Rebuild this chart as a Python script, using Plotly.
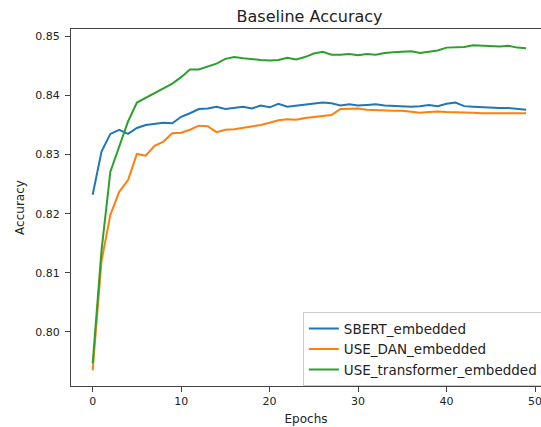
import plotly.graph_objects as go

epochs = list(range(50))

sbert = [0.8232, 0.8305, 0.8335, 0.8342, 0.8335, 0.8345, 0.8350, 0.8352, 0.8354, 0.8353,
         0.8364, 0.8370, 0.8377, 0.8378, 0.8381, 0.8377, 0.8379, 0.8381, 0.8378, 0.8383,
         0.8380, 0.8386, 0.8381, 0.8383, 0.8384, 0.8386, 0.8388, 0.8387, 0.8383, 0.8385,
         0.8383, 0.8384, 0.8385, 0.8383, 0.8382, 0.8381, 0.8381, 0.8382, 0.8384, 0.8382,
         0.8386, 0.8388, 0.8382, 0.8381, 0.8380, 0.8379, 0.8379, 0.8379, 0.8377, 0.8376]

use_dan = [0.7935, 0.8120, 0.8198, 0.8237, 0.8257, 0.8301, 0.8298, 0.8315, 0.8322, 0.8336,
           0.8337, 0.8342, 0.8349, 0.8348, 0.8338, 0.8342, 0.8343, 0.8345, 0.8347, 0.8350,
           0.8354, 0.8358, 0.8360, 0.8359, 0.8362, 0.8364, 0.8366, 0.8367, 0.8377, 0.8377,
           0.8378, 0.8376, 0.8375, 0.8374, 0.8374, 0.8374, 0.8372, 0.8371, 0.8372, 0.8373,
           0.8372, 0.8372, 0.8372, 0.8371, 0.8370, 0.8370, 0.8370, 0.8369, 0.8369, 0.8370]

use_transformer = [0.7947, 0.8138, 0.8271, 0.8315, 0.8356, 0.8388, 0.8396, 0.8404, 0.8413, 0.8420,
                   0.8431, 0.8444, 0.8444, 0.8449, 0.8454, 0.8462, 0.8465, 0.8463, 0.8461, 0.8460,
                   0.8459, 0.8460, 0.8464, 0.8461, 0.8465, 0.8471, 0.8474, 0.8469, 0.8469, 0.8470,
                   0.8468, 0.8470, 0.8469, 0.8472, 0.8473, 0.8474, 0.8475, 0.8472, 0.8474, 0.8476,
                   0.8481, 0.8482, 0.8482, 0.8485, 0.8484, 0.8483, 0.8483, 0.8484, 0.8481, 0.8480]

series_names = ["SBERT_embedded", "USE_DAN_embedded", "USE_transformer_embedded"]
series_values = [sbert, use_dan, use_transformer]
colors = ["#1f77b4", "#ff7f0e", "#2ca02c"]

x_ticks = [0, 10, 20, 30, 40, 50]
y_ticks = [0.80, 0.81, 0.82, 0.83, 0.84, 0.85]

fig = go.Figure()
for name, vals, c in zip(series_names, series_values, colors):
    fig.add_trace(go.Scatter(x=epochs, y=vals, mode="lines", name=name,
                             line=dict(color=c, width=2)))

W, H = 541, 427
L, R, T, B = 71.3, 0, 29.3, 427 - 385.7
PW, PH = W - L, H - T - B
axis_col = "#444444"
font = "DejaVu Sans"
txt_col = "#222222"

fig.update_layout(
    width=W, height=H,
    margin=dict(l=L, r=R, t=T, b=B, pad=0, autoexpand=False),
    paper_bgcolor="white", plot_bgcolor="white",
    font=dict(family=font, size=11, color=txt_col),
    title=dict(text="Baseline Accuracy", x=(309.7 - L) / PW, xref="paper",
               xanchor="center", y=1 - 16 / H, yref="container", yanchor="middle",
               font=dict(size=16, family=font, color=txt_col)),
    showlegend=True,
    legend=dict(x=(303 - L) / PW, y=1 - (312 - T) / PH,
                xanchor="left", yanchor="top", bgcolor="white",
                bordercolor="#cccccc", borderwidth=1,
                font=dict(size=13.5, family=font, color=txt_col),
                itemwidth=30, tracegroupgap=0),
    xaxis=dict(range=[-2.45, (W - 93.0) / 8.84], tickvals=x_ticks,
               ticktext=[str(v) for v in x_ticks],
               showgrid=False, zeroline=False, showline=True, linecolor=axis_col,
               linewidth=1, mirror=True, ticks="outside", ticklen=5, tickcolor=axis_col,
               ticklabeloverflow="allow",
               tickfont=dict(size=11, family=font, color=txt_col),
               title=dict(text="Epochs", standoff=7,
                          font=dict(size=12, family=font, color=txt_col)),
               automargin=False),
    yaxis=dict(range=[0.79085, 0.85125], tickvals=y_ticks,
               ticktext=["%.2f" % v for v in y_ticks],
               showgrid=False, zeroline=False, showline=True, linecolor=axis_col,
               linewidth=1, mirror=False, ticks="outside", ticklen=5, tickcolor=axis_col,
               ticklabelstandoff=3,
               tickfont=dict(size=11, family=font, color=txt_col),
               title=dict(text="Accuracy", standoff=8,
                          font=dict(size=12, family=font, color=txt_col)),
               automargin=False),
)

fig.write_html("out.html",
               config={"displayModeBar": False},
               post_script="document.body.style.margin='0';document.body.style.overflow='hidden';")
